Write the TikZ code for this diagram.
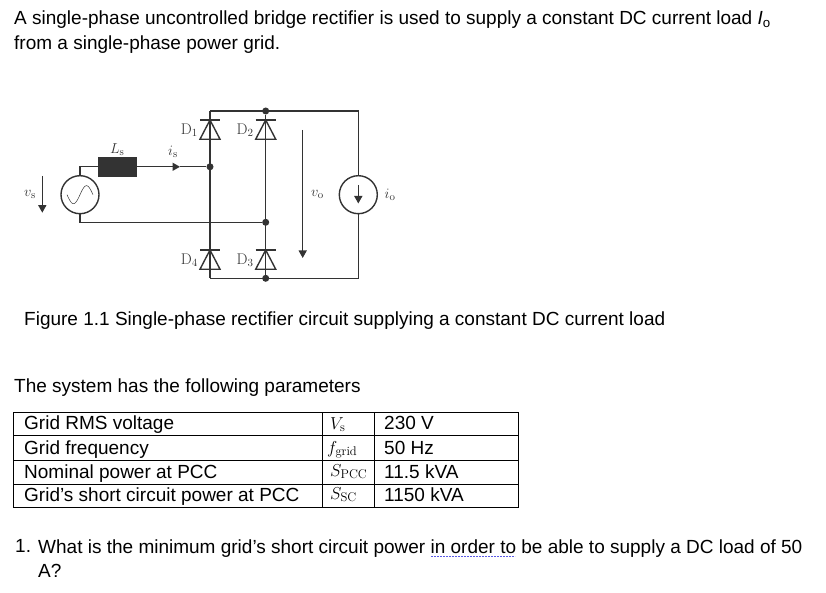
\documentclass[tikz,border=0pt]{standalone}
\usepackage{fontspec}
\newfontfamily\arialfont{Liberation Sans}
\usepackage{xcolor}
\usetikzlibrary{shapes,arrows.meta}
\usetikzlibrary{positioning}

\definecolor{wirecol}{HTML}{333333}
\definecolor{spellcol}{HTML}{5A5AE6}

\tikzset{
    wire/.style={draw=wirecol, line width=1.4pt},
    arr/.style={wire, -{Triangle[length=7.5pt,width=8pt]}},
    diode/.style={draw=wirecol, line width=1.4pt, isosceles triangle, isosceles triangle apex angle=55,
        shape border rotate=90, inner sep=0pt, outer sep=0pt, minimum height=19.3pt, minimum width=20pt, anchor=apex},
    dot/.style={circle, fill=wirecol, inner sep=0pt, minimum size=7pt},
    src/.style={circle, draw=wirecol, line width=1.4pt, inner sep=0pt, minimum size=38pt},
    lab/.style={text=wirecol, inner sep=0pt, font=\fontsize{15.5}{15.5}\selectfont},
    txt/.style={anchor=base west, inner sep=0pt, font=\arialfont\fontsize{19}{19}\selectfont},
    sym/.style={anchor=base west, inner sep=0pt, font=\fontsize{18}{18}\selectfont},
    rule/.style={draw=black, line width=0.9pt}
}

\begin{document}
\begin{tikzpicture}[x=1pt, y=-1pt]
    \useasboundingbox (0,0) rectangle (826,593);

    % text above the circuit
    \node[txt] (intro1) at (14,25) {A single-phase uncontrolled bridge rectifier is used to supply a constant DC current load \textit{I}\textsubscript{o}};
    \node[txt] (intro2) at (14,50) {from a single-phase power grid.};

    % circuit
    \node[src]                 (vsrc) at (80,194.7) {};
    \node[src]                 (load) at (358.3,194.7) {};
    \node[rectangle, fill=wirecol, inner sep=0pt, minimum width=39pt, minimum height=20pt] (ind) at (117.2,166.8) {};
    \node[dot]                 (j1) at (210,166.8) {};
    \node[dot]                 (j2) at (265.7,222.3) {};
    \node[dot]                 (jt) at (265.7,111) {};
    \node[dot]                 (jb) at (265.7,278.3) {};
    \coordinate                (tl) at (210,111);
    \coordinate                (bl) at (210,278.3);
    \coordinate                (tr) at (358.3,111);
    \coordinate                (br) at (358.3,278.3);
    \coordinate                (istip) at (180,166.8);

    \node[diode] (d1) at (210,120) {};
    \node[diode] (d2) at (265.7,120) {};
    \node[diode] (d3) at (265.7,250) {};
    \node[diode] (d4) at (210,250) {};
    \foreach \d in {d1,d2,d3,d4}
        \draw[wire] ([xshift=-10pt]\d.apex) -- ([xshift=10pt]\d.apex);

    \draw[wire] (vsrc.north) |- (ind.west);
    \draw[arr]  (ind.east) -- (istip);
    \draw[wire] (istip) -- (j1);
    \draw[wire] (vsrc.south) |- (j2);
    \draw[wire] (tl) -- (bl);
    \draw[wire] (jt) -- (jb);
    \draw[wire] (tl) -- (tr) -- (load.north);
    \draw[wire] (bl) -- (br) -- (load.south);

    % sine of the source
    \draw[wirecol, line width=0.5pt, shift={(vsrc.center)}] plot[domain=-13:13, samples=40, smooth] (\x,{-9*sin(\x*360/26)});

    % arrows of the voltages and of the load current
    \coordinate (vs1) at (42.3,176);
    \coordinate (vs2) at (42.3,212.7);
    \coordinate (vo1) at (302.7,130);
    \coordinate (vo2) at (302.7,258);
    \coordinate (io1) at (358.3,185);
    \coordinate (io2) at (358.3,203.5);
    \draw[arr] (vs1) -- (vs2);
    \draw[arr] (vo1) -- (vo2);
    \draw[arr] (io1) -- (io2);

    \node[lab] (lvs) at (30,194.5)   {$v_{\mathrm{s}}$};
    \node[lab] (lvo) at (317.5,194.5) {$v_{\mathrm{o}}$};
    \node[lab, right=6.5pt of load] (lio) {$i_{\mathrm{o}}$};
    \node[lab, above=3pt of ind, yshift=-2pt] (lls) {$L_{\mathrm{s}}$};
    \node[lab] (lis) at (173,151.5)  {$i_{\mathrm{s}}$};
    \node[lab, left=5pt of d1, yshift=3pt] (ld1) {D$_1$};
    \node[lab, left=5pt of d2, yshift=3pt] (ld2) {D$_2$};
    \node[lab, left=5pt of d3, yshift=3pt] (ld3) {D$_3$};
    \node[lab, left=5pt of d4, yshift=3pt] (ld4) {D$_4$};

    % caption and table
    \node[txt] (caption) at (24,325) {Figure 1.1 Single-phase rectifier circuit supplying a constant DC current load};
    \node[txt] (params)  at (14,392) {The system has the following parameters};

    \coordinate (tabA) at (13,412);
    \coordinate (tabB) at (518,507);
    \draw[rule] (tabA) rectangle (tabB);
    \foreach \ry in {435,460,484}
        \draw[rule] (13,\ry) -- (518,\ry);
    \foreach \rx in {322,374}
        \draw[rule] (\rx,412) -- (\rx,507);

    \node[txt] (r1a) at (24,429) {Grid RMS voltage};
    \node[txt] (r2a) at (24,454) {Grid frequency};
    \node[txt] (r3a) at (24,478) {Nominal power at PCC};
    \node[txt] (r4a) at (24,501) {Grid’s short circuit power at PCC};
    \node[sym] (r1b) at (330,429) {$V_{\mathrm{s}}$};
    \node[sym] (r2b) at (327,453) {$f_{\mathrm{grid}}$};
    \node[sym] (r3b) at (330,476) {$S_{\mathrm{PCC}}$};
    \node[sym] (r4b) at (330,499) {$S_{\mathrm{SC}}$};
    \node[txt] (r1c) at (384,429) {230 V};
    \node[txt] (r2c) at (384,454) {50 Hz};
    \node[txt] (r3c) at (384,478) {11.5 kVA};
    \node[txt] (r4c) at (384,501) {1150 kVA};

    % question
    \node[txt] (qnum)  at (15,552) {1.};
    \node[txt] (qtext) at (38,553) {What is the minimum grid’s short circuit power in order to be able to supply a DC load of 50};
    \node[txt] (qend)  at (38,577) {A?};
    \coordinate (sp1) at (431,556.5);
    \coordinate (sp2) at (515,556.5);
    \draw[spellcol, line width=1pt, dash pattern=on 2pt off 1pt] (sp1) -- (sp2);
\end{tikzpicture}
\end{document}
